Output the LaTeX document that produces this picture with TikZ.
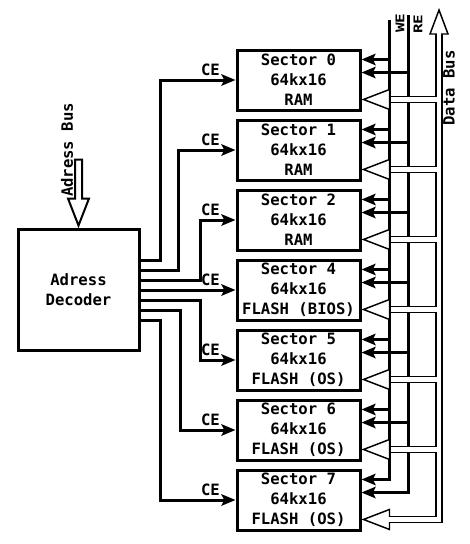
\documentclass[tikz,border=0pt]{standalone}
\usepackage{fontspec}
\newfontfamily\dmono{DejaVu Sans Mono}
\usetikzlibrary{arrows.meta,calc}
\begin{document}
\begin{tikzpicture}[x=0.75pt,y=-0.75pt,
  txt/.style={font=\dmono\bfseries\fontsize{11.7pt}{15pt}\selectfont},
  smalltxt/.style={font=\dmono\bfseries\fontsize{12pt}{12pt}\selectfont},
  box/.style={draw,line width=2.25pt,minimum width=92.25pt,minimum height=45pt,inner sep=0pt,align=center,txt},
  sig/.style={line width=2.25pt,-{Stealth[length=10.5pt,width=8.5pt,inset=2pt]}},
  pipeout/.style={line width=5.6pt,line join=miter},
  pipein/.style={line width=3.4pt,white,line join=miter},
  pipehead/.style={line width=1.1pt,fill=white,line join=miter},
  blockarrow/.style={line width=1.5pt,fill=white,line join=miter},
]
\useasboundingbox (0,0) rectangle (469,544);

% decoder and sectors
\node[box,minimum width=90.75pt,minimum height=90.75pt] (dec) at (78.5,289.5) {Adress\\Decoder};
\node[box] (s0) at (298.5,80)  {Sector 0\\64kx16\\RAM};
\node[box] (s1) at (298.5,150) {Sector 1\\64kx16\\RAM};
\node[box] (s2) at (298.5,220) {Sector 2\\64kx16\\RAM};
\node[box] (s3) at (298.5,290) {Sector 4\\64kx16\\FLASH (BIOS)};
\node[box] (s4) at (298.5,360) {Sector 5\\64kx16\\FLASH (OS)};
\node[box] (s5) at (298.5,430) {Sector 6\\64kx16\\FLASH (OS)};
\node[box] (s6) at (298.5,500) {Sector 7\\64kx16\\FLASH (OS)};

% address bus block arrow
\draw[blockarrow] ($(dec.north)+(0,-2)$) -- ++(10.5,-27) -- ++(-7,0) -- ++(0,-39)
  -- ++(-7,0) -- ++(0,39) -- ++(-7,0) -- cycle;
\node[txt,rotate=90] (abus) at (67,150) {Adress Bus};

% chip enable lines
\draw[sig] ($(dec.east)+(0,-29.5)$) -- ++(19.5,0) |- (s0.west);
\draw[sig] ($(dec.east)+(0,-19.5)$) -- ++(38,0) |- (s1.west);
\draw[sig] ($(dec.east)+(0,-9.5)$) -- ++(60,0) |- (s2.west);
\draw[sig] (dec.east |- s3.west) -- (s3.west);
\draw[sig] ($(dec.east)+(0,10.5)$) -- ++(60,0) |- (s4.west);
\draw[sig] ($(dec.east)+(0,20.5)$) -- ++(40,0) |- (s5.west);
\draw[sig] ($(dec.east)+(0,31)$) -- ++(19.5,0) |- (s6.west);
\foreach \i in {0,...,6}{
  \node[txt] (ce\i) at ($(s\i.west)+(-25,-10)$) {CE};
}

% WE / RE lines
\coordinate (weTop) at (389,20);
\coordinate (reTop) at (408,15);
\foreach \i in {0,...,6}{
  \coordinate (ws\i) at ([yshift=15.4pt]s\i.east);
  \coordinate (rs\i) at ([yshift=5.6pt]s\i.east);
  \coordinate (ds\i) at ([yshift=-14.6pt]s\i.east);
}
\draw[sig] (weTop) |- (ws6);
\draw[sig] (reTop) |- (rs6);
\foreach \i in {0,...,5}{
  \draw[sig] (weTop |- ws\i) -- (ws\i);
  \draw[sig] (reTop |- rs\i) -- (rs\i);
}
\node[smalltxt,rotate=90,inner sep=0pt] (we) at (400,23) {\scalebox{1}[0.75]{WE}};
\node[smalltxt,rotate=90,inner sep=0pt] (re) at (418,24) {\scalebox{1}[0.75]{RE}};

% data bus
\coordinate (busTip) at (439,10);
\coordinate (busTop) at (439,34);
\coordinate (aback) at (388,0);
\draw[pipeout] (busTop) -- (busTop |- ds6) -- (aback |- ds6);
\foreach \i in {0,...,5}{
  \draw[pipeout] (busTop |- ds\i) -- (aback |- ds\i);
}
\filldraw[pipehead] (busTip) -- ++(9,24) -- ++(-18,0) -- cycle;
\foreach \i in {0,...,6}{
  \filldraw[pipehead] ($(ds\i)+(2,0)$) -- ++(26,-10) -- ++(0,20) -- cycle;
}
\draw[pipein] ($(busTop)+(0,-2)$) -- (busTop |- ds6) -- ($(aback |- ds6)+(-2,0)$);
\foreach \i in {0,...,5}{
  \draw[pipein] (busTop |- ds\i) -- ($(aback |- ds\i)+(2.5,0)$);
}
\node[txt,rotate=90] (dbus) at (449,88) {Data Bus};
\end{tikzpicture}
\end{document}
